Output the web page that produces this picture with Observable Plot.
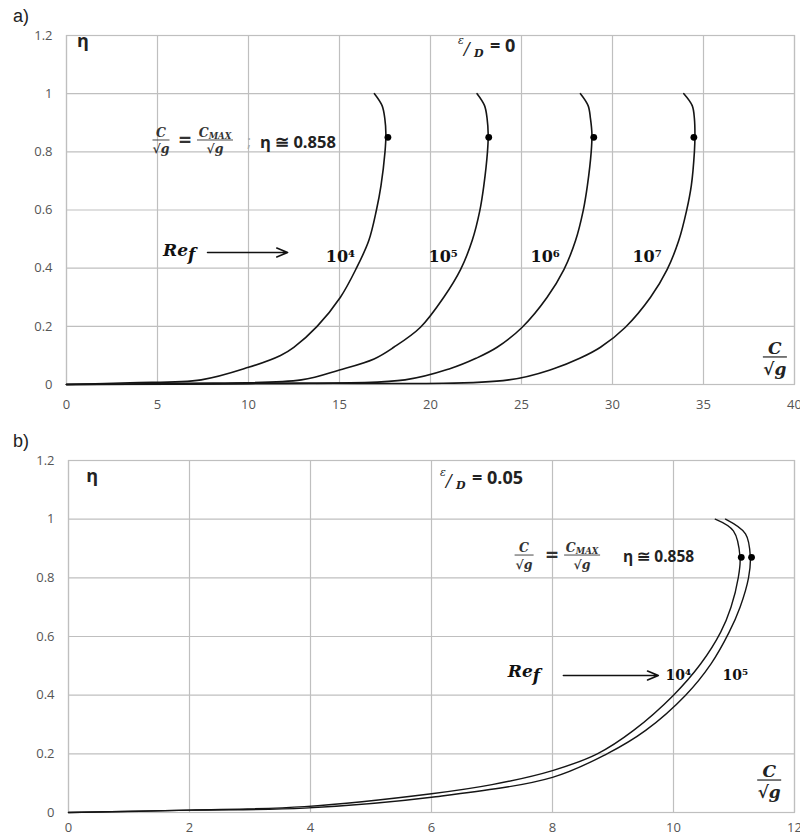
<!DOCTYPE html>
<html><head><meta charset="utf-8">
<script src="https://cdn.jsdelivr.net/npm/d3@7"></script>
<script src="https://cdn.jsdelivr.net/npm/@observablehq/plot@0.6"></script>
<style>
body{margin:0;background:#fff;overflow:hidden}
#wrap{position:relative;width:800px;height:839px}
.panel{position:absolute;left:13px;font:18px "Liberation Sans",Arial,sans-serif;color:#222;line-height:1}
#wrap svg{position:absolute;left:0}
</style></head><body><div id="wrap"></div>
<script>
// ---------- data ----------
const panelLabels = ["a)", "b)"];
const roughnessLabels = ["= 0", "= 0.05"];
const xTicksTop = [0, 5, 10, 15, 20, 25, 30, 35, 40];
const xTicksBottom = [0, 2, 4, 6, 8, 10, 12];
const yTicks = [0, 0.2, 0.4, 0.6, 0.8, 1, 1.2];
const yTickLabels = ["0", "0.2", "0.4", "0.6", "0.8", "1", "1.2"];
const reLabelsTop = ["10⁴", "10⁵", "10⁶", "10⁷"];
const reLabelsBottom = ["10⁴", "10⁵"];
const etaText = "η ≅ 0.858";

// panel a) eps/D = 0 : [C/sqrt(g), eta]
const topRe4 = [[0,0],[3.5,0.006],[7.4,0.016],[10,0.059],[11.76,0.1],[12.49,0.128],[13.77,0.2],[15.05,0.3],[15.93,0.4],[16.61,0.495],[17.03,0.6],[17.28,0.684],[17.5,0.8],[17.55,0.86],[17.49,0.914],[17.34,0.959],[16.92,1.0]];
const topRe5 = [[0,0],[6,0.004],[12.9,0.016],[15,0.05],[16.9,0.088],[17.98,0.128],[19.45,0.197],[20.73,0.3],[21.65,0.395],[22.29,0.495],[22.71,0.598],[22.93,0.684],[23.13,0.8],[23.17,0.86],[23.11,0.914],[22.97,0.959],[22.56,1.0]];
const topRe6 = [[0,0],[10,0.003],[18.6,0.016],[21.1,0.055],[22.5,0.09],[23.66,0.128],[25.04,0.197],[26.41,0.3],[27.33,0.395],[27.97,0.495],[28.39,0.598],[28.62,0.684],[28.83,0.8],[28.87,0.86],[28.79,0.914],[28.66,0.959],[28.24,1.0]];
const topRe7 = [[0,0],[12,0.004],[24.3,0.016],[26.8,0.055],[28.2,0.09],[29.34,0.128],[30.71,0.197],[32.09,0.3],[33.0,0.395],[33.64,0.495],[34.07,0.598],[34.33,0.684],[34.5,0.8],[34.53,0.86],[34.5,0.914],[34.38,0.959],[33.92,1.0]];
const topMaxC = [17.66, 23.2, 28.97, 34.47];
const topMaxEta = 0.85;

// panel b) eps/D = 0.05
const botRe4 = [[0,0],[2,0.008],[3.9,0.02],[6,0.064],[7,0.095],[8,0.143],[8.74,0.2],[9.34,0.28],[10.0,0.4],[10.45,0.507],[10.78,0.615],[10.95,0.7],[11.07,0.8],[11.1,0.87],[10.99,0.96],[10.69,1.0]];
const botRe5 = [[0,0],[2,0.008],[3.9,0.015],[6,0.052],[8,0.12],[8.9,0.2],[9.54,0.28],[10.2,0.4],[10.62,0.507],[10.92,0.615],[11.1,0.7],[11.24,0.8],[11.27,0.87],[11.19,0.95],[10.86,1.0]];
const botMaxC = [11.12, 11.29];
const botMaxEta = 0.87;

// annotation anchors (data coordinates)
const topAnno = {eta:[0.6,1.16], eps:[21.54,1.14], formula:[4.78,0.839], ref:[5.33,0.44], arrow:[7.75,12.15,0.454], reX:[15.05,20.7,26.3,31.9], reY:0.44, axis:[38.95,0.093]};
const botAnno = {eta:[0.3,1.125], eps:[6.15,1.118], formula:[7.39,0.876], ref:[7.27,0.46], arrow:[8.18,9.75,0.467], reX:[10.08,11.02], reY:0.467, axis:[11.59,0.109]};

// ---------- helpers ----------
const SERIF = "'DejaVu Serif', 'Liberation Serif', serif";
const SANS = "'Open Sans', 'Liberation Sans', sans-serif";
function txt(g, x, y, s, o = {}) {
  return g.append("text").attr("x", x).attr("y", y).text(s)
    .attr("font-family", o.family || SERIF).attr("font-size", o.size || 12)
    .attr("font-style", o.style || "normal").attr("font-weight", o.weight || "normal")
    .attr("fill", o.fill || "#222").attr("text-anchor", o.anchor || "start");
}
function fraction(g, cx, w, num, sub, o) {
  const t = txt(g, cx, -3, num, {...o, anchor: "middle"});
  if (sub) t.append("tspan").attr("font-size", o.size * 0.68).attr("dy", 2).text(sub);
  g.append("line").attr("x1", cx - w / 2).attr("x2", cx + w / 2).attr("y1", 0).attr("y2", 0)
    .attr("stroke", o.fill || "#222").attr("stroke-width", o.bar || 1);
  txt(g, cx, o.size + 1, "√g", {...o, anchor: "middle"});
}
function anchored(pt, build) {
  return (index, scales) => {
    const g = d3.create("svg:g").attr("transform", `translate(${scales.x(pt[0])},${scales.y(pt[1])})`);
    build(g);
    return g.node();
  };
}

function makeChart(cfg) {
  const A = cfg.anno;
  const flat = cfg.series.flatMap((pts, i) => pts.map(([x, y]) => ({x, y, s: i})));
  const maxima = cfg.maxC.map(c => ({x: c, y: cfg.maxEta}));
  const marks = [
    Plot.gridX(cfg.xTicks, {stroke: "#bfbfbf", strokeOpacity: 1, strokeWidth: 1.2}),
    Plot.gridY(yTicks, {stroke: "#bfbfbf", strokeOpacity: 1, strokeWidth: 1.2}),
    Plot.frame({stroke: "#bfbfbf", strokeWidth: 1.2}),
    Plot.axisX({ticks: cfg.xTicks, tickSize: 0, tickPadding: cfg.xPad, label: null, fontSize: 13}),
    Plot.axisY({ticks: yTicks, tickSize: 0, tickPadding: cfg.yPad, label: null, fontSize: 13,
      tickFormat: d => yTickLabels[yTicks.indexOf(d)]}),
    Plot.line(flat, {x: "x", y: "y", z: "s", curve: "catmull-rom", stroke: "#151515", strokeWidth: cfg.lw}),
    Plot.dot(maxima, {x: "x", y: "y", r: 3.4, fill: "#000", stroke: "none"}),
    Plot.arrow([A.arrow], {x1: d => d[0], x2: d => d[1], y1: d => d[2], y2: d => d[2],
      stroke: "#111", strokeWidth: 1.6, headLength: 11, headAngle: 45}),
    Plot.text(cfg.reLabels, {x: (d, i) => A.reX[i], y: () => A.reY, text: d => d,
      fontFamily: SERIF, fontWeight: "bold", fontSize: cfg.reSize, fill: "#111"}),
    anchored(A.eta, g => txt(g, 0, 0, "η", {family: SANS, size: 18, weight: "bold", fill: "#222"})),
    anchored(A.eps, g => {
      txt(g, 0, -8, "ε", {size: 11, style: "italic", fill: "#222"});
      txt(g, 6, 2, "/", {size: 17, style: "italic", fill: "#222"});
      txt(g, 16, 5, "D", {size: 11, style: "italic", weight: "bold", fill: "#222"});
      txt(g, 32, 0, cfg.eps, {family: SANS, size: 18, weight: "bold", fill: "#222"});
    }),
    anchored(A.formula, g => {
      const o = {size: 12.5, style: "italic", weight: "bold", fill: "#333", bar: 0.9};
      cfg.formula(g, o);
    }),
    anchored(A.ref, g => {
      const t = txt(g, 0, 0, "Re", {size: 17, style: "italic", weight: "bold", fill: "#111"});
      t.append("tspan").attr("dy", 4).text("f");
    }),
    anchored(A.axis, g => fraction(g, 0, 24, "C", null, {size: 17, style: "italic", weight: "bold", fill: "#222", bar: 1.2}))
  ];
  return Plot.plot({
    width: 800, height: cfg.height,
    marginLeft: cfg.ml, marginRight: 6, marginTop: cfg.mt, marginBottom: cfg.mb,
    x: {domain: cfg.xDomain}, y: {domain: [0, 1.2]},
    style: {fontFamily: SANS, fontSize: "13px", color: "#555", background: "#fff"},
    marks
  });
}

const wrap = document.getElementById("wrap");
const chartA = makeChart({
  series: [topRe4, topRe5, topRe6, topRe7], maxC: topMaxC, maxEta: topMaxEta,
  xTicks: xTicksTop, xDomain: [0, 40],
  height: 420, ml: 66, mt: 35, mb: 36, xPad: 15, yPad: 14, lw: 1.6, reSize: 16,
  reLabels: reLabelsTop, eps: roughnessLabels[0], anno: topAnno,
  formula: (g, o) => {
    fraction(g, 8, 17, "C", null, o);
    txt(g, 32, 7, "=", {size: 22, fill: "#333", anchor: "middle", family: SANS, weight: "bold"});
    fraction(g, 62, 36, "C", "MAX", o);
    txt(g, 94, 7, ";", {size: 16, fill: "#aaa", family: SANS});
    txt(g, 107, 8, etaText, {family: SANS, size: 16.5, weight: "bold", fill: "#222"});
  }
});
chartA.style.top = "0px";
const chartB = makeChart({
  series: [botRe4, botRe5], maxC: botMaxC, maxEta: botMaxEta,
  xTicks: xTicksBottom, xDomain: [0, 12],
  height: 419, ml: 68, mt: 40, mb: 27, xPad: 10, yPad: 14, lw: 1.4, reSize: 14,
  reLabels: reLabelsBottom, eps: roughnessLabels[1], anno: botAnno,
  formula: (g, o) => {
    fraction(g, 9, 19, "C", null, o);
    txt(g, 37, 7, "=", {size: 22, fill: "#333", anchor: "middle", family: SANS, weight: "bold"});
    fraction(g, 67, 36, "C", "MAX", o);
    txt(g, 108, 7, etaText, {family: SANS, size: 15.5, weight: "bold", fill: "#222"});
  }
});
chartB.style.top = "420px";
wrap.append(chartA, chartB);
panelLabels.forEach((s, i) => {
  const d = document.createElement("div");
  d.className = "panel"; d.textContent = s;
  d.style.top = (i === 0 ? 7 : 432) + "px";
  wrap.append(d);
});
</script></body></html>
